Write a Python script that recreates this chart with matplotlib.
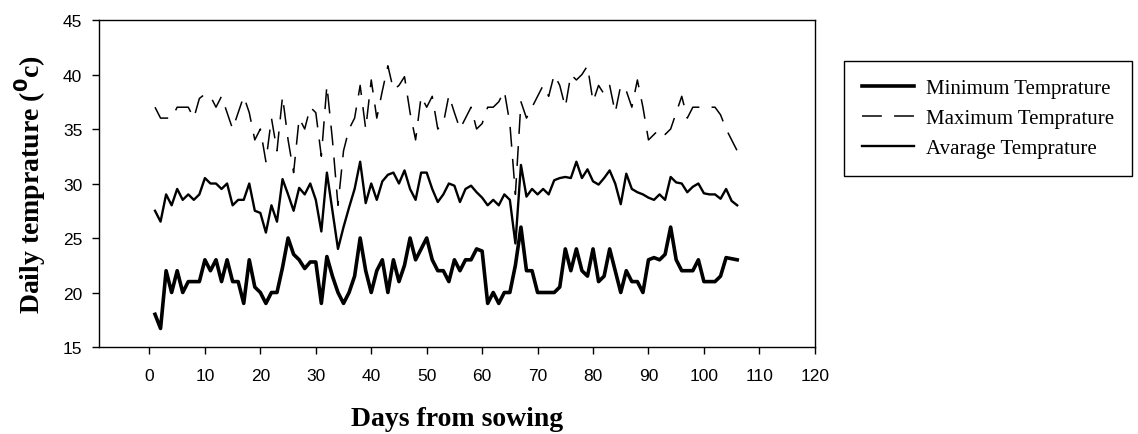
import matplotlib
matplotlib.use('Agg')
import matplotlib.pyplot as plt
import numpy as np

# daily values, days 1..106
days = np.arange(1, 107)

min_temp = [18, 16.7, 22, 20, 22, 20, 21, 21, 21, 23,
            22, 23, 21, 23, 21, 21, 19, 23, 20.5, 20,
            19, 20, 20, 22.3, 25, 23.5, 23, 22.2, 22.8, 22.8,
            19, 23.3, 21.5, 20, 19, 20, 21.5, 25, 22, 20,
            22, 23, 20, 23, 21, 22.5, 25, 23, 24, 25,
            23, 22, 22, 21, 23, 22, 23, 23, 24, 23.8,
            19, 20, 19, 20, 20, 22.5, 26, 22, 22, 20,
            20, 20, 20, 20.5, 24, 22, 24, 22, 21.5, 24,
            21, 21.5, 24, 22, 20, 22, 21, 21, 20, 23,
            23.2, 23, 23.5, 26, 23, 22, 22, 22, 23, 21,
            21, 21, 21.5, 23.2, 23.1, 23]

max_temp = [37, 36, 36, 36, 37, 37, 37, 36, 37.8, 38.2,
            38, 37, 38, 36.5, 35, 36.5, 38, 36.5, 34, 35,
            32, 36, 33, 38, 34, 31, 36, 35, 37, 36.5,
            32.5, 39, 34, 28, 33, 35, 36, 39, 35, 39.5,
            36, 38.5, 40.8, 38.6, 39, 39.8, 36.5, 34, 38, 37,
            38, 35, 35.5, 38.1, 36.5, 35, 36, 37, 35, 35.5,
            37, 37, 37.5, 38.5, 35.5, 29, 37.5, 36, 37, 38,
            39, 38, 40, 39, 37, 40, 39.5, 40, 40.8, 37.5,
            39, 38.2, 39, 36.5, 39, 38.5, 37, 39.5, 37, 34,
            34.5, 35, 34.5, 35, 36.5, 38, 36, 37, 37, 37,
            37, 37, 36.3, 35, 34, 33]

avg_temp = [27.5, 26.5, 29, 28, 29.5, 28.5, 29, 28.5, 29, 30.5,
            30, 30, 29.5, 30, 28, 28.5, 28.5, 30, 27.5, 27.3,
            25.5, 28, 26.5, 30.4, 29, 27.5, 29.6, 29, 30, 28.5,
            25.6, 31, 27.5, 24, 26, 27.8, 29.5, 32, 28.2, 30,
            28.5, 30.2, 30.8, 31, 30, 31.2, 29.5, 28.5, 31, 31,
            29.5, 28.3, 29, 30, 29.8, 28.3, 29.5, 29.8, 29.2, 28.7,
            28, 28.5, 28, 29, 28.5, 24.5, 31.7, 28.8, 29.5, 29,
            29.5, 29, 30.3, 30.5, 30.6, 30.5, 32, 30.5, 31.3, 30.2,
            29.9, 30.5, 31.2, 30, 28.1, 30.9, 29.5, 29.2, 29, 28.7,
            28.5, 29, 28.5, 30.6, 30.1, 30, 29.2, 29.7, 30, 29.1,
            29, 29, 28.6, 29.5, 28.4, 28]

xticks = list(range(0, 121, 10))
yticks = list(range(15, 46, 5))

fig = plt.figure(figsize=(11.38, 4.35), dpi=100)
ax = fig.add_axes([0.087, 0.2, 0.629, 0.7517])

l1, = ax.plot(days, min_temp, color='black', lw=2.6, solid_joinstyle='round')
l2, = ax.plot(days, max_temp, color='black', lw=1.1, dashes=(13, 8))
l3, = ax.plot(days, avg_temp, color='black', lw=1.7, solid_joinstyle='round')

ax.set_xlim(-9.1, 120)
ax.set_ylim(15, 45)
ax.set_xticks(xticks)
ax.set_yticks(yticks)
ax.tick_params(direction='out', length=5, width=1, labelsize=12.5,
               labelfontfamily='Liberation Sans')
ax.tick_params(axis='x', pad=10)
ax.tick_params(axis='y', pad=7)
for s in ax.spines.values():
    s.set_linewidth(1)

ax.set_xlabel('Days from sowing', fontsize=20, fontweight='bold',
              family='Liberation Serif', labelpad=17)
ax.set_ylabel(r'Daily temprature ($\mathbf{^{0}}$c)', fontsize=20, fontweight='bold',
              family='Liberation Serif', labelpad=11)

leg = fig.legend([l1, l2, l3],
                 ['Minimum Temprature', 'Maximum Temprature', 'Avarage Temprature'],
                 loc='upper left', bbox_to_anchor=(0.7417, 0.858),
                 borderaxespad=0, fancybox=False, framealpha=1,
                 prop={'family': 'Liberation Serif', 'size': 15},
                 handlelength=2.5, handletextpad=0.6, labelspacing=0.5,
                 borderpad=0.85)
leg.get_frame().set_edgecolor('black')
leg.get_frame().set_linewidth(1)

plt.savefig('out.png', dpi=100)
